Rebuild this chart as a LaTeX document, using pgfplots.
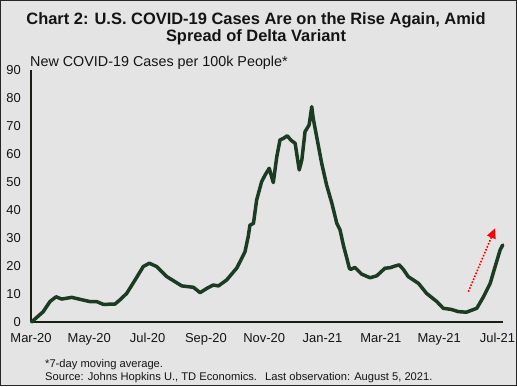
\documentclass[border=0pt]{standalone}
\usepackage{fontspec}
\setmainfont{Liberation Sans}
\usepackage{pgfplots}
\usepackage{pgfplotstable}
\pgfplotsset{compat=1.18}
\usetikzlibrary{arrows.meta}
\definecolor{bg}{RGB}{228,228,228}
\definecolor{covid}{RGB}{27,60,35}
\definecolor{axisc}{RGB}{25,30,20}
\definecolor{txt}{RGB}{20,20,20}
\pgfplotstableread{
m v
0.02 0
0.42 3.7
0.65 7.3
0.86 9.0
1.05 8.2
1.40 8.8
1.68 8.1
2.02 7.3
2.25 7.3
2.48 6.3
2.88 6.4
3.05 7.9
3.28 10.2
3.57 15.0
3.85 19.8
4.06 21.0
4.31 19.8
4.66 16.2
5.17 12.9
5.57 12.4
5.80 10.5
6.03 12.0
6.25 13.2
6.43 12.9
6.71 15.0
7.06 19.3
7.34 25.1
7.45 30.5
7.51 34.6
7.63 35.2
7.74 43.6
7.91 50.1
8.03 52.5
8.17 54.9
8.31 49.8
8.43 59.0
8.54 65.0
8.66 65.6
8.79 66.5
8.91 65.0
9.06 63.8
9.20 54.3
9.29 57.9
9.40 68.0
9.54 70.4
9.63 76.9
9.68 72.7
9.82 65.0
9.97 56.7
10.14 48.9
10.32 42.4
10.49 35.2
10.60 32.9
10.72 27.2
10.85 22.1
10.92 19.2
10.97 18.8
11.11 19.5
11.34 17.1
11.63 15.8
11.86 16.5
12.14 19.2
12.32 19.4
12.49 20.0
12.63 20.4
12.77 18.8
12.94 16.2
13.29 13.8
13.57 10.2
13.92 7.3
14.14 4.9
14.41 4.5
14.66 3.7
14.93 3.5
15.06 4.0
15.29 4.9
15.52 9.0
15.75 13.8
15.92 19.8
16.09 25.7
16.18 27.5
}\cases
\begin{document}
\begin{tikzpicture}[x=1bp,y=1bp]
\fill[bg] (0,0) rectangle (517,386);
\draw[black!85, line width=1bp] (0.5,0.5) rectangle (516.5,385.5);
\node[anchor=base, font=\fontsize{16.5}{19}\selectfont\bfseries, text=txt, inner sep=0pt] at (256,361.5) {Chart 2: U.S. COVID-19 Cases Are on the Rise Again, Amid};
\node[anchor=base, font=\fontsize{16.5}{19}\selectfont\bfseries, text=txt, inner sep=0pt] at (256,344.5) {Spread of Delta Variant};
\node[anchor=base west, font=\fontsize{14.4}{16}\selectfont, text=txt, inner sep=0pt] at (30,320) {New COVID-19 Cases per 100k People*};
\node[anchor=base west, font=\fontsize{11.2}{13}\selectfont, text=txt, inner sep=0pt] at (45,19) {*7-day moving average.};
\node[anchor=base west, font=\fontsize{11.2}{13}\selectfont, text=txt, inner sep=0pt] at (45,6) {Source: Johns Hopkins U., TD Economics.};
\node[anchor=base west, font=\fontsize{11.2}{13}\selectfont, text=txt, inner sep=0pt] at (265,6) {Last observation: August 5, 2021.};
\begin{axis}[
  at={(31bp,64bp)}, anchor=south west,
  scale only axis, width=472bp, height=252bp,
  xmin=0, xmax=16.19, ymin=0, ymax=90,
  axis lines*=left,
  axis line style={axisc, line width=1.6bp},
  xtick={0,2,...,16},
  xticklabels={Mar-20,May-20,Jul-20,Sep-20,Nov-20,Jan-21,Mar-21,May-21,Jul-21},
  ytick={0,10,...,90},
  major tick length=0pt,
  tick label style={font=\fontsize{13}{15}\selectfont, text=txt},
  /pgf/number format/assume math mode=true,
  xticklabel style={anchor=north, inner sep=0pt, yshift=-11bp},
  yticklabel style={anchor=east, inner sep=0pt, xshift=-10bp},
  clip=false,
]
\addplot[covid, line width=3.5bp, line join=round, line cap=round] table[x=m, y=v] {\cases};
\addplot[red, line width=1.6bp, dash pattern=on 1.6bp off 1.6bp, -{Triangle[width=9bp,length=10bp]}] coordinates {(15.00,10.8) (15.92,33.5)};
\end{axis}
\end{tikzpicture}
\end{document}
